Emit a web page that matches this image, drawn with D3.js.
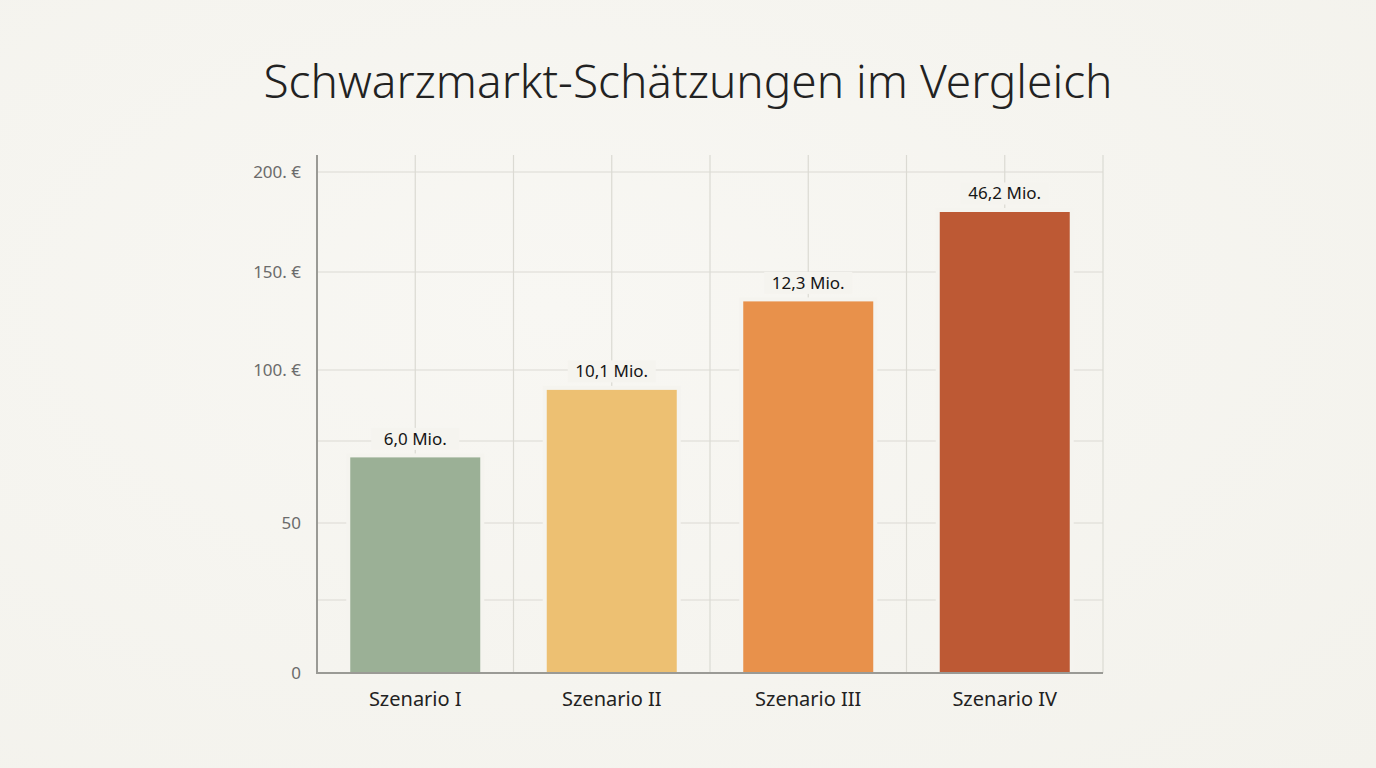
<!DOCTYPE html>
<html>
<head>
<meta charset="utf-8">
<script src="https://cdn.jsdelivr.net/npm/d3@7"></script>
<style>
  html, body { margin: 0; padding: 0; }
  body { width: 1376px; height: 768px; overflow: hidden;
         background: radial-gradient(ellipse at 40% 40%, #f8f7f3 0%, #f3f2ec 100%); }
  svg { display: block; font-family: "Noto Sans", "Open Sans", sans-serif; }
</style>
</head>
<body>
<svg id="chart" width="1376" height="768"></svg>
<script>
// data (axis units, the axis is not linear)
const categories = ['Szenario I', 'Szenario II', 'Szenario III', 'Szenario IV'];
const values = [70, 93, 135, 180];
const valueLabels = ['6,0 Mio.', '10,1 Mio.', '12,3 Mio.', '46,2 Mio.'];
const barColors = ['#9bb096', '#edc072', '#e8914b', '#bd5934'];
const tickValues = [0, 50, 100, 150, 200];
const tickLabels = ['0', '50', '100. €', '150. €', '200. €'];
const gridValues = [25, 50, 75, 100, 150, 200];

const bg = '#f5f4ef';
const svg = d3.select('#chart');

// plot box
const plotLeft = 317, plotRight = 1103, plotTop = 155, plotBottom = 673;

// piecewise scale, the original axis is stretched below 100
const y = d3.scaleLinear()
    .domain([0, 25, 50, 75, 100, 150, 200])
    .range([plotBottom, 600, 523, 441, 370, 272, 172]);

const x = d3.scaleBand()
    .domain(categories)
    .range([plotLeft, plotRight])
    .paddingInner(0)
    .paddingOuter(0);

const barW = 130;

// title
svg.append('text')
    .attr('x', 688)
    .attr('y', 98)
    .attr('text-anchor', 'middle')
    .attr('font-size', 46)
    .attr('font-weight', 300)
    .attr('fill', '#222')
    .text('Schwarzmarkt-Schätzungen im Vergleich');

// grid
const grid = svg.append('g').attr('stroke', '#dbdad3').attr('stroke-width', 1.2);
grid.selectAll('line.h').data(gridValues).enter().append('line')
    .attr('x1', plotLeft).attr('x2', plotRight)
    .attr('y1', d => y(d)).attr('y2', d => y(d));

// vertical grid: band centres and band edges
const vx = [];
categories.forEach(c => { vx.push(x(c) + x.bandwidth() / 2); vx.push(x(c) + x.bandwidth()); });
grid.selectAll('line.v').data(vx).enter().append('line')
    .attr('x1', d => d).attr('x2', d => d)
    .attr('y1', plotTop).attr('y2', plotBottom);

// bars with a thin halo in the background colour
const bars = svg.append('g').selectAll('g').data(categories).enter().append('g');
bars.append('rect')
    .attr('x', d => x(d) + x.bandwidth() / 2 - barW / 2 - 4)
    .attr('y', (d, i) => y(values[i]) - 4)
    .attr('width', barW + 8)
    .attr('height', (d, i) => plotBottom - y(values[i]) + 4)
    .attr('fill', bg);
bars.append('rect')
    .attr('x', d => x(d) + x.bandwidth() / 2 - barW / 2)
    .attr('y', (d, i) => y(values[i]))
    .attr('width', barW)
    .attr('height', (d, i) => plotBottom - y(values[i]))
    .attr('fill', (d, i) => barColors[i]);

// value labels, with a background patch that cuts the grid
const lbl = svg.append('g').selectAll('g').data(categories).enter().append('g')
    .attr('transform', (d, i) => `translate(${x(d) + x.bandwidth() / 2},${y(values[i]) - 18.5})`);
lbl.append('rect')
    .attr('x', -44).attr('y', -11).attr('width', 88).attr('height', 22)
    .attr('fill', bg);
lbl.append('text')
    .attr('text-anchor', 'middle')
    .attr('dy', '0.35em')
    .attr('font-size', 17)
    .attr('fill', '#161616')
    .text((d, i) => valueLabels[i]);

// y axis
const yAxis = d3.axisLeft(y)
    .tickValues(tickValues)
    .tickFormat((d, i) => tickLabels[i])
    .tickSize(0)
    .tickPadding(16);
const ya = svg.append('g').attr('transform', `translate(${plotLeft},0)`).call(yAxis);
ya.select('.domain').remove();
ya.selectAll('text').attr('font-size', 17).attr('fill', '#6b6b6b')
    .attr('font-family', '"Noto Sans", sans-serif');
svg.append('line')
    .attr('x1', plotLeft).attr('x2', plotLeft).attr('y1', plotTop).attr('y2', plotBottom + 1)
    .attr('stroke', '#9a9a95').attr('stroke-width', 2);

// x axis
const xAxis = d3.axisBottom(x).tickSize(0).tickPadding(19);
const xa = svg.append('g').attr('transform', `translate(0,${plotBottom})`).call(xAxis);
xa.select('.domain').remove();
xa.selectAll('text').attr('font-size', 20).attr('fill', '#222')
    .attr('font-family', '"Noto Sans", sans-serif');
svg.append('line')
    .attr('x1', plotLeft).attr('x2', plotRight).attr('y1', plotBottom).attr('y2', plotBottom)
    .attr('stroke', '#9a9a95').attr('stroke-width', 2);
</script>
</body>
</html>
